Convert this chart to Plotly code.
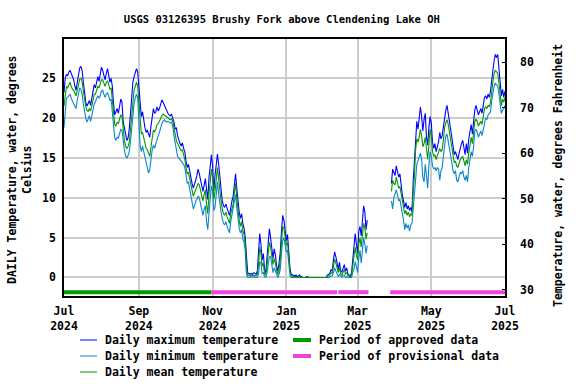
import pandas as pd
import plotly.graph_objects as go

START = "2024-07-01"

# Daily maximum water temperature, deg C (None = no data)
tmax = (
    [23.2, 25.0, 25.5, 25.3, 25.8, 26.0, 25.6, 25.2, 24.8, 24.0]
    + [23.5, 24.5, 25.8, 26.3, 26.5, 26.0, 24.5, 23.0, 22.0, 21.5]
    + [21.8, 22.2, 21.6, 22.5, 23.5, 24.2, 23.8, 24.8, 25.2, 24.6]
    + [25.5, 26.4, 26.0, 25.2, 24.8, 25.6, 26.2, 25.4, 24.5, 25.0]
    + [24.0, 21.8, 20.4, 20.8, 21.2, 20.6, 21.5, 22.4, 22.0, 19.5]
    + [18.8, 17.8, 17.2, 17.5, 18.6, 20.5, 22.8, 24.5, 25.2, 25.8]
    + [26.2, 25.8, 24.0, 21.5, 20.2, 20.8, 19.5, 18.8, 18.2, 18.5]
    + [18.0, 17.6, 19.0, 20.4, 21.2, 20.6, 20.8, 21.4, 20.9, 21.2]
    + [21.8, 22.3, 22.0, 21.6, 21.2, 20.9, 20.6, 20.4, 20.3, 20.5]
    + [20.0, 19.5, 18.6, 18.8, 17.8, 17.2, 16.8, 16.5, 16.9, 16.2]
    + [15.8, 14.6, 13.8, 14.2, 13.2, 12.5, 11.8, 11.2, 11.6, 12.2]
    + [12.8, 13.6, 13.0, 12.2, 11.5, 10.8, 11.6, 12.4, 11.0, 9.8]
    + [12.5, 14.4, 15.4, 14.0, 10.9, 12.8, 14.6, 15.5, 14.2, 12.5]
    + [11.0, 9.6, 9.0, 8.8, 9.2, 8.6, 8.2, 7.8, 9.0, 9.6]
    + [10.2, 11.8, 13.0, 11.2, 9.4, 8.2, 7.4, 8.0, 6.8, 6.2]
    + [5.0, 2.0, 0.6, 0.5, 0.4, 0.5, 0.4, 0.6, 0.5, 0.4]
    + [0.8, 2.8, 5.5, 4.2, 2.2, 3.0, 1.0, 0.6, 2.5, 4.6]
    + [6.1, 5.0, 3.4, 2.4, 3.6, 2.8, 1.4, 0.8, 1.8, 3.2]
    + [5.8, 7.8, 7.2, 6.0, 4.6, 5.4, 3.2, 1.2, 0.4, 0.3]
    + [0.3, 0.2, 0.3, 0.1, 0.2, 0.3, 0.1, 0.0, 0.0, 0.0]
    + [0.0, 0.1, 0.0, 0.0, 0.0, 0.0, 0.0, 0.0, 0.0, 0.0]
    + [0.0, 0.0, 0.0, 0.0, 0.0, 0.0, 0.0, 0.0]
    + [0.3, 0.4, 0.5, 1.0, 0.8, 2.2, 3.2, 2.6, 1.8, 1.0, 1.9, 0.8]
    + [0.7, 1.3, 1.6, 0.8, 1.2, 0.4, 0.3, 0.2, 0.6, 2.5]
    + [4.5, 5.5, 4.2, 3.0, 5.8, 6.4, 5.2, 7.0, 9.0, 8.2, 6.0, 7.2]
    + [None] * 19
    + [11.8, 13.6, 13.2, 12.8, 14.0, 13.2, 12.6, 13.0, 11.4]
    + [10.4, 9.6, 8.8, 9.4, 8.6, 9.0, 8.4, 8.8, 8.2, 12.0]
    + [14.4, 18.2, 19.6, 18.6, 20.0, 21.4, 20.2, 18.4, 19.8, 20.6]
    + [17.6, 16.6, 18.8, 20.2, 19.4, 17.0, 16.2, 16.8, 15.8, 16.4]
    + [17.0, 18.2, 17.4, 17.8, 19.0, 20.4, 21.0, 21.6, 20.4, 19.2]
    + [18.6, 17.6, 16.0, 15.4, 15.8, 15.2, 14.8, 15.6, 16.4, 16.8]
    + [17.2, 16.0, 15.4, 16.8, 15.6, 17.4, 18.6, 19.2, 18.0, 19.6]
    + [21.0, 21.6, 20.8, 20.4, 20.8, 21.2, 20.6, 21.4, 22.6, 22.8]
    + [22.4, 23.0, 22.6, 23.4, 25.2, 26.0, 27.2, 28.0, 27.6, 28.0, 26.2, 24.2, 22.8, 23.6, 22.6, 23.4]
)

# Daily minimum water temperature, deg C
tmin = (
    [18.8, 21.0, 22.5, 22.6, 22.8, 23.0, 22.5, 22.0, 21.8, 21.5]
    + [21.2, 22.3, 23.2, 23.8, 23.6, 23.0, 21.8, 20.5, 20.0, 19.5]
    + [19.8, 20.3, 19.6, 20.2, 21.0, 21.8, 22.0, 22.5, 22.8, 22.5]
    + [22.8, 23.4, 23.5, 23.0, 22.6, 23.0, 23.2, 22.8, 22.2, 22.4]
    + [21.0, 18.8, 17.5, 17.2, 17.6, 17.5, 18.0, 18.6, 18.5, 17.0]
    + [16.0, 15.2, 15.0, 15.3, 15.8, 17.0, 19.0, 20.8, 21.8, 22.5]
    + [23.0, 22.5, 19.8, 16.5, 15.8, 16.5, 15.8, 15.2, 14.5, 14.0]
    + [13.1, 13.6, 15.0, 16.0, 16.6, 16.2, 16.8, 17.5, 17.8, 18.2]
    + [18.8, 19.3, 19.6, 19.8, 19.6, 19.5, 19.6, 19.5, 19.4, 19.5]
    + [19.0, 17.8, 16.8, 15.8, 15.2, 15.0, 14.8, 14.6, 14.5, 14.2]
    + [13.8, 12.6, 11.8, 12.0, 11.2, 10.0, 9.2, 8.6, 9.0, 9.6]
    + [9.8, 10.2, 10.0, 9.2, 8.4, 7.8, 8.6, 9.0, 7.0, 6.0]
    + [8.0, 10.2, 11.5, 10.8, 8.4, 8.8, 10.8, 12.0, 10.5, 9.0]
    + [8.2, 7.4, 6.8, 6.6, 7.0, 6.4, 6.0, 5.6, 7.0, 7.8]
    + [8.4, 9.4, 10.4, 8.8, 7.2, 6.2, 5.6, 6.0, 4.8, 4.4]
    + [3.4, 0.4, 0.0, 0.0, 0.0, 0.1, 0.0, 0.1, 0.0, 0.0]
    + [0.0, 0.4, 2.0, 1.8, 0.5, 0.6, 0.1, 0.0, 0.6, 1.6]
    + [2.6, 2.6, 1.4, 0.6, 1.2, 0.8, 0.2, 0.0, 0.4, 1.0]
    + [3.0, 4.6, 5.0, 4.2, 3.2, 3.4, 1.8, 0.3, 0.0, 0.0]
    + [0.0, 0.0, 0.0, 0.0, 0.0, 0.0, 0.0, 0.0, 0.0, 0.0]
    + [0.0, 0.0, 0.0, 0.0, 0.0, 0.0, 0.0, 0.0, 0.0, 0.0]
    + [0.0, 0.0, 0.0, 0.0, 0.0, 0.0, 0.0, 0.0]
    + [0.0, 0.0, 0.1, 0.2, 0.2, 0.6, 1.2, 0.8, 0.3, 0.1, 0.4, 0.1]
    + [0.0, 0.2, 0.3, 0.0, 0.1, 0.0, 0.0, 0.0, 0.0, 0.6]
    + [1.0, 2.0, 1.2, 0.6, 2.4, 3.4, 1.8, 3.6, 5.0, 4.2, 3.0, 4.0]
    + [None] * 19
    + [9.6, 8.6, 10.0, 10.4, 11.0, 10.4, 9.6, 9.8, 9.0]
    + [8.2, 7.2, 6.0, 6.8, 6.2, 6.6, 5.8, 6.6, 6.8, 9.0]
    + [10.4, 12.2, 14.2, 14.6, 15.0, 15.6, 14.8, 12.6, 12.0, 14.2]
    + [12.8, 11.2, 14.0, 15.8, 15.2, 14.0, 13.6, 13.8, 13.4, 13.8]
    + [13.6, 12.2, 13.4, 13.8, 15.2, 16.8, 17.8, 18.0, 17.2, 16.4]
    + [15.6, 14.4, 13.4, 13.0, 13.4, 12.2, 12.0, 12.6, 13.2, 13.0]
    + [13.4, 12.6, 12.2, 12.8, 12.0, 13.8, 15.0, 15.8, 15.2, 16.4]
    + [18.4, 18.6, 18.2, 17.6, 18.0, 18.4, 17.8, 18.6, 19.6, 20.0]
    + [19.8, 20.4, 20.6, 20.8, 22.2, 23.2, 24.0, 24.4, 24.2, 24.0, 23.0, 21.4, 20.6, 21.0, 21.2, 21.6]
)

# Daily mean water temperature, deg C
tmean = (
    [21.5, 23.0, 24.0, 23.8, 24.2, 24.5, 24.0, 23.6, 23.5, 23.0]
    + [22.8, 23.5, 24.5, 24.9, 25.0, 24.6, 23.4, 22.2, 21.5, 21.0]
    + [20.8, 21.2, 20.9, 21.5, 22.3, 23.0, 23.0, 23.6, 24.0, 23.8]
    + [24.2, 24.8, 24.8, 24.3, 24.0, 24.4, 24.7, 24.2, 23.6, 23.8]
    + [22.5, 20.6, 19.2, 19.0, 19.5, 19.3, 19.8, 20.4, 20.2, 18.5]
    + [17.2, 16.5, 16.2, 16.4, 17.0, 18.5, 20.5, 22.5, 23.5, 24.0]
    + [24.5, 24.0, 22.0, 19.5, 18.0, 18.2, 17.5, 16.8, 16.2, 16.0]
    + [15.6, 15.2, 16.4, 17.8, 18.5, 18.3, 18.6, 19.2, 19.3, 19.6]
    + [20.0, 20.3, 20.5, 20.4, 20.2, 20.1, 20.0, 19.9, 19.8, 19.9]
    + [19.6, 18.8, 17.8, 17.2, 16.8, 16.5, 16.2, 15.9, 16.0, 15.4]
    + [14.8, 13.8, 13.0, 13.2, 12.4, 11.6, 10.8, 10.2, 10.6, 11.0]
    + [11.4, 11.8, 11.6, 10.8, 10.2, 9.6, 10.4, 11.0, 9.2, 8.0]
    + [10.4, 12.5, 13.6, 12.6, 9.8, 10.8, 12.8, 13.8, 12.4, 10.8]
    + [9.6, 8.6, 8.0, 7.8, 8.2, 7.6, 7.2, 6.8, 8.0, 8.8]
    + [9.2, 10.6, 11.8, 10.0, 8.4, 7.2, 6.4, 7.0, 5.8, 5.4]
    + [4.2, 1.2, 0.3, 0.2, 0.2, 0.3, 0.2, 0.3, 0.2, 0.2]
    + [0.4, 1.6, 3.8, 3.0, 1.4, 1.8, 0.5, 0.3, 1.6, 3.2]
    + [4.4, 3.8, 2.4, 1.6, 2.4, 1.8, 0.8, 0.4, 1.0, 2.2]
    + [4.4, 6.4, 6.2, 5.2, 4.0, 4.4, 2.6, 0.8, 0.2, 0.1]
    + [0.1, 0.1, 0.1, 0.0, 0.1, 0.1, 0.0, 0.0, 0.0, 0.0]
    + [0.0, 0.0, 0.0, 0.0, 0.0, 0.0, 0.0, 0.0, 0.0, 0.0]
    + [0.0, 0.0, 0.0, 0.0, 0.0, 0.0, 0.0, 0.0]
    + [0.1, 0.2, 0.3, 0.6, 0.5, 1.4, 2.3, 1.8, 1.2, 0.6, 1.2, 0.5]
    + [0.3, 0.8, 1.0, 0.4, 0.6, 0.2, 0.1, 0.1, 0.3, 1.6]
    + [3.0, 3.8, 2.8, 2.2, 4.2, 5.0, 3.8, 5.4, 6.8, 6.2, 4.8, 5.6]
    + [None] * 19
    + [10.8, 12.2, 11.8, 11.6, 12.6, 12.0, 11.2, 11.4, 10.4]
    + [9.6, 8.8, 8.0, 8.4, 7.8, 8.2, 7.6, 8.0, 7.8, 10.8]
    + [12.6, 16.0, 17.4, 17.0, 17.6, 18.6, 17.8, 16.4, 16.8, 17.6]
    + [15.6, 14.8, 16.6, 18.6, 17.8, 15.8, 15.2, 15.4, 14.8, 15.2]
    + [15.6, 16.2, 15.8, 16.0, 17.2, 18.8, 19.4, 19.8, 19.2, 18.2]
    + [17.0, 15.8, 14.8, 14.4, 14.6, 14.0, 13.8, 14.4, 14.8, 15.0]
    + [15.2, 14.6, 14.0, 14.8, 14.2, 15.6, 16.8, 17.6, 16.8, 18.0]
    + [19.6, 19.9, 19.6, 19.0, 19.4, 19.6, 19.2, 20.0, 21.2, 21.4]
    + [21.2, 21.6, 21.4, 22.0, 23.6, 24.6, 25.6, 26.0, 25.8, 25.6, 24.4, 22.8, 21.6, 22.4, 22.0, 22.6]
)

assert len(tmax) == len(tmin) == len(tmean) == 366, (len(tmax), len(tmin), len(tmean))
dates = pd.date_range(START, periods=len(tmax), freq="D")

# Data-status periods (start, end)
approved_periods = [("2024-07-01", "2024-10-31")]
provisional_periods = [("2024-10-31", "2025-02-12"), ("2025-02-13", "2025-03-10"),
                       ("2025-03-28", "2025-07-01")]
PERIOD_BAR_Y = -1.85

tick_dates = ["2024-07-01", "2024-09-01", "2024-11-01", "2025-01-01",
              "2025-03-01", "2025-05-01", "2025-07-01"]
tick_text = ["Jul<br>2024", "Sep<br>2024", "Nov<br>2024", "Jan<br>2025",
             "Mar<br>2025", "May<br>2025", "Jul<br>2025"]
f_ticks = [30, 40, 50, 60, 70, 80]

C_MAX = "#0000ff"
C_MIN = "#0a86cf"
C_MEAN = "#009900"
C_APP = "#009900"
C_PROV = "#ee44dd"
FONT = "DejaVu Sans Mono"

fig = go.Figure()
fig.add_trace(go.Scatter(x=dates, y=tmax, mode="lines", line=dict(color=C_MAX, width=1.1),
                         name="Daily maximum temperature", connectgaps=False))
fig.add_trace(go.Scatter(x=dates, y=tmin, mode="lines", line=dict(color=C_MIN, width=1.1),
                         name="Daily minimum temperature", connectgaps=False))
fig.add_trace(go.Scatter(x=dates, y=tmean, mode="lines", line=dict(color=C_MEAN, width=1.1),
                         name="Daily mean temperature", connectgaps=False))
for s, e in approved_periods:
    fig.add_trace(go.Scatter(x=[s, e], y=[PERIOD_BAR_Y, PERIOD_BAR_Y], mode="lines",
                             line=dict(color=C_APP, width=4), name="Period of approved data"))
for s, e in provisional_periods:
    fig.add_trace(go.Scatter(x=[s, e], y=[PERIOD_BAR_Y, PERIOD_BAR_Y], mode="lines",
                             line=dict(color=C_PROV, width=4), name="Period of provisional data"))
# invisible trace to activate right axis
fig.add_trace(go.Scatter(x=[dates[0]], y=[50], yaxis="y2", mode="markers",
                         marker=dict(opacity=0), hoverinfo="skip"))

tfont = dict(family=FONT, size=11.5, color="black", weight="bold")

fig.update_layout(
    width=576, height=384,
    margin=dict(l=64, r=71, t=39, b=88, autoexpand=False),
    paper_bgcolor="white", plot_bgcolor="white",
    showlegend=False,
    title=dict(text="USGS 03126395 Brushy Fork above Clendening Lake OH",
               x=0.494, xref="paper", xanchor="center", y=1 - 19 / 384, yanchor="middle",
               font=dict(family=FONT, size=10.5, color="black", weight="bold")),
    xaxis=dict(range=["2024-07-01", "2025-07-01"], tickvals=tick_dates, ticktext=tick_text,
               showgrid=True, gridcolor="#cccccc", gridwidth=1.5,
               showline=True, linecolor="black", linewidth=1.5, mirror=True,
               ticks="outside", ticklen=3, tickcolor="rgba(0,0,0,0)",
               tickfont=tfont, zeroline=False),
    yaxis=dict(range=[-2.33, 29.93], tickvals=[0, 5, 10, 15, 20, 25],
               showgrid=True, gridcolor="#cccccc", gridwidth=1.5,
               showline=True, linecolor="black", linewidth=1.5, mirror=True,
               ticks="outside", ticklen=4, tickcolor="rgba(0,0,0,0)",
               tickfont=tfont, zeroline=False),
    yaxis2=dict(range=[28.6, 85.1], overlaying="y", side="right", tickvals=f_ticks,
                showgrid=False, zeroline=False, ticks="inside", ticklen=3, tickcolor="black",
                ticklabelstandoff=14, tickfont=tfont, showline=False),
)

def px_x(px):
    return (px - 64) / 441

def px_y(py):
    return (296 - py) / 257

fig.add_annotation(text="DAILY Temperature, water, degrees<br>Celsius", textangle=-90,
                   xref="paper", yref="paper", x=px_x(19), y=px_y(170), showarrow=False,
                   font=tfont, xanchor="center", yanchor="middle")
fig.add_annotation(text="Temperature, water, degrees Fahrenheit", textangle=-90,
                   xref="paper", yref="paper", x=px_x(558), y=px_y(176), showarrow=False,
                   font=tfont, xanchor="center", yanchor="middle")

legend_items = [
    ("Daily maximum temperature", C_MAX, 1, 80, 97, 103, 340),
    ("Daily minimum temperature", C_MIN, 1, 80, 97, 103, 356),
    ("Daily mean temperature", C_MEAN, 1, 80, 97, 103, 372),
    ("Period of approved data", C_APP, 4, 293, 311, 317, 340),
    ("Period of provisional data", C_PROV, 4, 293, 311, 317, 356),
]
for label, col, w, x0, x1, xt, yy in legend_items:
    fig.add_shape(type="line", xref="paper", yref="paper", x0=px_x(x0), x1=px_x(x1),
                  y0=px_y(yy), y1=px_y(yy), line=dict(color=col, width=w))
    fig.add_annotation(text=label, xref="paper", yref="paper", x=px_x(xt), y=px_y(yy),
                       xanchor="left", yanchor="middle", showarrow=False, font=tfont)

fig.write_html("out.html", config={"displayModeBar": False},
               post_script="document.body.style.margin='0';")
